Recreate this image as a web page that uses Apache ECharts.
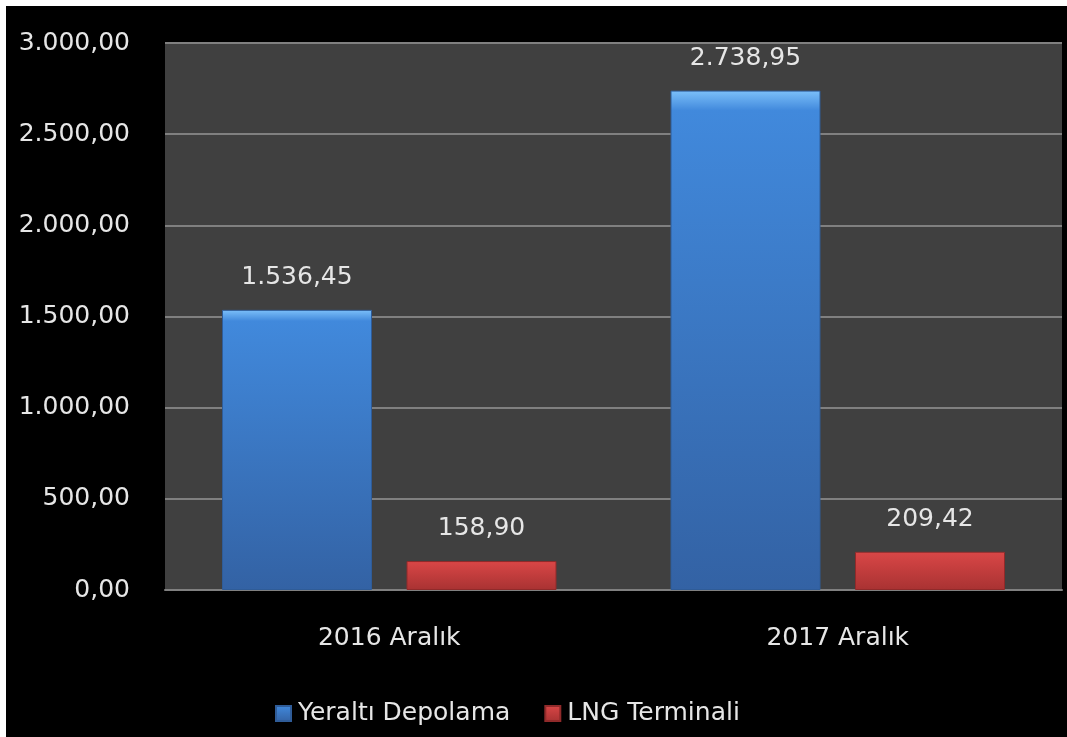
<!DOCTYPE html>
<html>
<head>
<meta charset="utf-8">
<script src="https://cdn.jsdelivr.net/npm/echarts@6/dist/echarts.min.js"></script>
<style>
  html, body { margin: 0; padding: 0; background: #fff; overflow: hidden; }
  #main { position: absolute; left: 6px; top: 6px; width: 1061px; height: 731px; background: #000; }
</style>
</head>
<body>
<div id="main"></div>
<script>
// values
var categories = ['2016 Aralık', '2017 Aralık'];
var seriesNames = ['Yeraltı Depolama', 'LNG Terminali'];
var yeraltiValues = [1536.45, 2738.95];
var lngValues = [158.90, 209.42];

// turkish number format: 1.536,45
function fmt(v) {
  var parts = Number(v).toFixed(2).split('.');
  parts[0] = parts[0].replace(/\B(?=(\d{3})+(?!\d))/g, '.');
  return parts[0] + ',' + parts[1];
}

var FONT = 'DejaVu Sans';
var TXT = '#e6e6e6';
var FS = 25;

function grad(top, mid, bottom) {
  return new echarts.graphic.LinearGradient(0, 0, 0, 1, [
    { offset: 0, color: top },
    { offset: 0.04, color: mid },
    { offset: 1, color: bottom }
  ]);
}

var chart = echarts.init(document.getElementById('main'));
chart.setOption({
  backgroundColor: '#000',
  animation: false,
  grid: {
    left: 159, right: 5, top: 37, bottom: 147,
    show: true, backgroundColor: '#404040', borderWidth: 0
  },
  legend: {
    top: 690,
    left: 264,
    itemWidth: 15,
    itemHeight: 15,
    itemGap: 34,
    icon: 'rect',
    textStyle: { color: TXT, fontFamily: FONT, fontSize: FS, padding: [0, 0, 0, 2] },
    data: seriesNames
  },
  xAxis: {
    type: 'category',
    data: categories,
    axisLine: { lineStyle: { color: '#808080', width: 2 } },
    axisTick: { show: false },
    axisLabel: { color: TXT, fontFamily: FONT, fontSize: FS, margin: 36 }
  },
  yAxis: {
    type: 'value',
    min: 0, max: 3000, interval: 500,
    axisLine: { show: false },
    axisTick: { show: false },
    splitLine: { lineStyle: { color: '#808080', width: 2 } },
    axisLabel: {
      color: TXT, fontFamily: FONT, fontSize: FS, margin: 35,
      formatter: fmt
    }
  },
  series: [
    {
      name: seriesNames[0],
      type: 'bar',
      data: yeraltiValues,
      barWidth: 150,
      barGap: '23%',
      itemStyle: {
        color: grad('#7cc0fa', '#4189dc', '#3362a4'),
        borderColor: '#2f5c98', borderWidth: 1
      },
      label: {
        show: true, position: 'top', distance: 20,
        color: TXT, fontFamily: FONT, fontSize: FS,
        formatter: function (p) { return fmt(p.value); }
      }
    },
    {
      name: seriesNames[1],
      type: 'bar',
      data: lngValues,
      barWidth: 150,
      itemStyle: {
        color: grad('#ff8080', '#d84646', '#a83232'),
        borderColor: '#902a2a', borderWidth: 1
      },
      label: {
        show: true, position: 'top', distance: 20,
        color: TXT, fontFamily: FONT, fontSize: FS,
        formatter: function (p) { return fmt(p.value); }
      }
    }
  ]
});
</script>
</body>
</html>
